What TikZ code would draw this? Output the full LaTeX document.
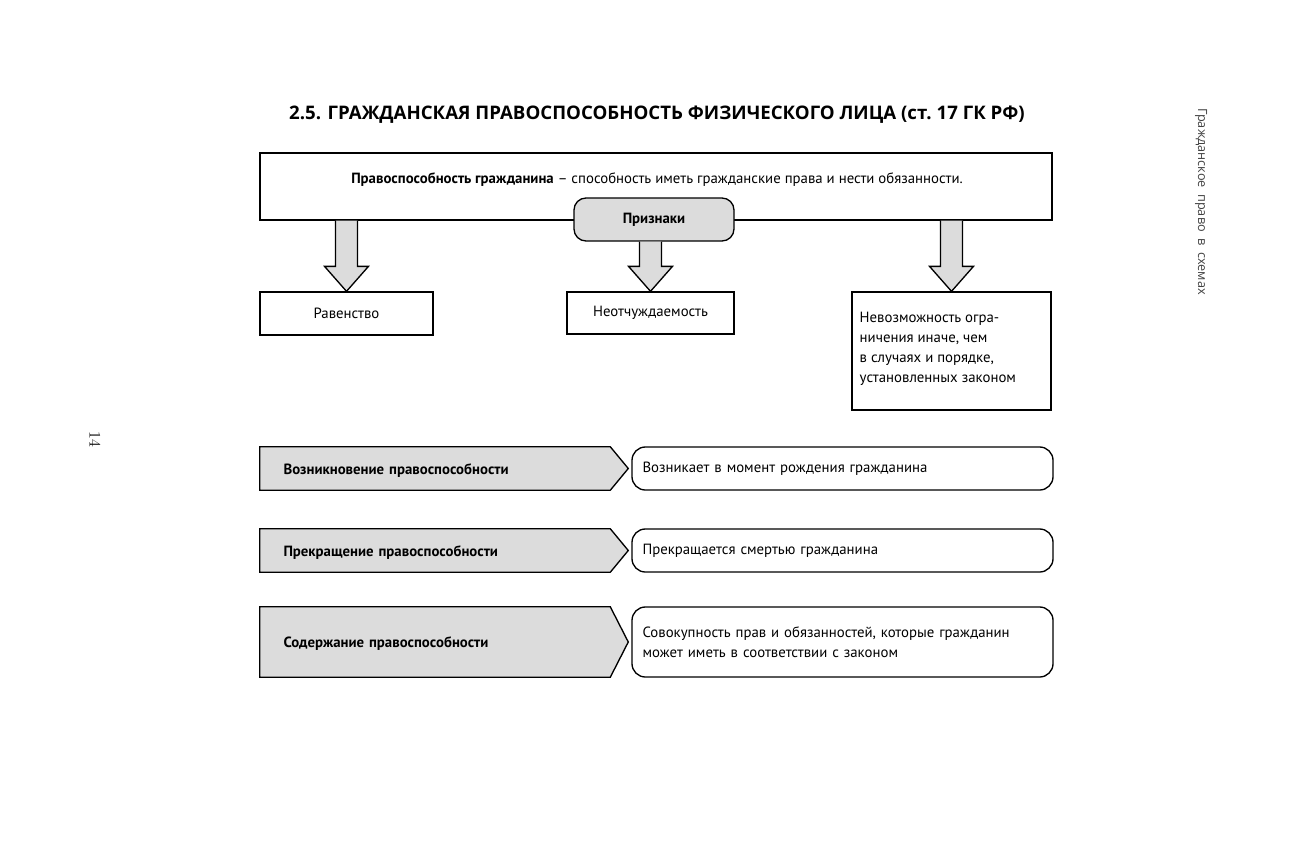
\documentclass[tikz,border=0pt]{standalone}
\usepackage{fontspec}
\usepackage{tikz}
\newfontfamily\bodyfont{PT Sans}
\newfontfamily\headfont{Open Sans}
\usetikzlibrary{calc,positioning}
\definecolor{brush}{HTML}{DCDCDC}

\tikzset{
    plainbox/.style={draw,line width=1pt,fill=white,inner sep=0pt,font=\bodyfont\fontsize{11.1}{15}\selectfont},
    roundbox/.style={plainbox,rounded corners=10pt,align=left},
    tagbox/.style={plainbox,rounded corners=9pt,fill=brush,font=\bodyfont\bfseries\fontsize{11.1}{15}\selectfont},
    rowhead/.style={inner sep=0pt,align=left,font=\bodyfont\bfseries\fontsize{11.1}{15}\selectfont},
    blockarrow/.style={draw,line width=1pt,fill=brush,line join=miter},
}
% block arrow from #1 (top) down to #2 (tip)
\newcommand{\blockdown}[2]{%
    \path[blockarrow] ($(#1)+(-11,0)$) -- ($(#2)+(-11,-25)$) -- ($(#2)+(-22,-25)$) -- (#2)
        -- ($(#2)+(22,-25)$) -- ($(#2)+(11,-25)$) -- ($(#1)+(11,0)$);
}

\begin{document}
\begin{tikzpicture}[x=0.75pt,y=-0.75pt]
    \useasboundingbox (0,0) rectangle (1312,845);

    \node (title) at (657,115) {\headfont\bfseries\fontsize{14}{16}\selectfont 2.5. ГРАЖДАНСКАЯ ПРАВОСПОСОБНОСТЬ ФИЗИЧЕСКОГО ЛИЦА (ст.~17 ГК РФ)};

    % definition
    \node (defbox) [plainbox,minimum width=792*0.75pt,minimum height=67*0.75pt] at (656,186.5) {};
    \node (deftext) [font=\bodyfont\fontsize{11.1}{15}\selectfont] at (657,180)
        {\textbf{Правоспособность гражданина} – способность иметь гражданские права и нести обязанности.};
    \node (signs) [tagbox,minimum width=160*0.75pt,minimum height=43*0.75pt] at (654,219.5) {Признаки};

    % features
    \node (equal) [plainbox,minimum width=173*0.75pt,minimum height=43*0.75pt] at (346.5,313.5) {Равенство};
    \node (inalien) [plainbox,minimum width=167*0.75pt,minimum height=42*0.75pt] at (650.5,313) {Неотчуждаемость};
    \node (limit) [plainbox,minimum width=199*0.75pt,minimum height=118*0.75pt] at (951.5,351) {};
    \node (limittext) [font=\bodyfont\fontsize{11.1}{15}\selectfont,align=left,anchor=west] at (855,349)
        {Невозможность огра-\\ничения иначе, чем\\в~случаях и порядке,\\установленных законом};

    \coordinate (a1) at (defbox.south -| equal.north);
    \coordinate (a2) at (signs.south -| inalien.north);
    \coordinate (a3) at (defbox.south -| limit.north);
    \blockdown{a1}{equal.north}
    \blockdown{a2}{inalien.north}
    \blockdown{a3}{limit.north}

    % rows
    \foreach \name/\y/\h/\head/\body in {
        start/468.5/43/Возникновение правоспособности/Возникает в момент рождения гражданина,
        stop/550.5/43/Прекращение правоспособности/Прекращается смертью гражданина,
        scope/642/70/Содержание правоспособности/{Совокупность прав и обязанностей, которые гражданин\\может иметь в соответствии с законом}}
    {
        \node (\name head) [minimum width=350*0.75pt,minimum height=\h*0.75pt,inner sep=0pt] at (435,\y) {};
        \path[draw,line width=1pt,fill=brush,line join=miter] (\name head.north west) -- (\name head.north east)
            -- ($(\name head.east)+(18,0)$) -- (\name head.south east) -- (\name head.south west) -- cycle;
        \node at ($(\name head)+(11,2)$) [rowhead,text width=325*0.75pt] {\head};
        \node (\name body) [roundbox,minimum width=421*0.75pt,minimum height=\h*0.75pt,
            text width=400*0.75pt] at (842.5,\y) {\body};
    }

    % margins of the page
    \node (pagenum) [rotate=-90,font=\fontsize{12}{14}\selectfont] at (95,439) {14};
    \node (runhead) [rotate=-90,anchor=west,text=black!75,font=\headfont\fontsize{9.5}{12}\selectfont,
        inner sep=0pt] at (1201,108) {Гражданское\ \ право\ \ в\ \ схемах};
\end{tikzpicture}
\end{document}
